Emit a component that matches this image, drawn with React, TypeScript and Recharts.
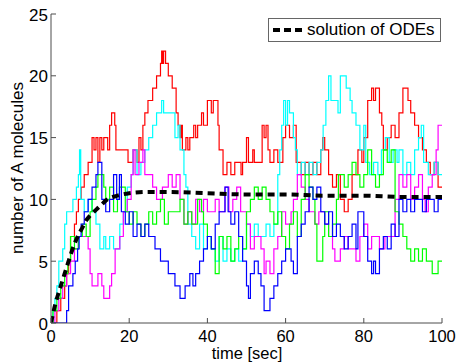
import { LineChart, Line, XAxis, YAxis, Legend } from "recharts";

// stochastic runs, [time, count] at each jump (step after)
const redRun = [
  [0, 0], [1.5, 1], [2.5, 2], [3.5, 3], [4, 4], [4.5, 5], [5, 7], [6, 8], [6.5, 9], [7, 10], [7.7, 11], [8.5, 12],
  [9.5, 13], [10.5, 15], [11, 14], [11.5, 15], [12, 13], [12.5, 15], [13, 14], [13.5, 15], [14.5, 14], [15, 16],
  [15.5, 17], [16.3, 16], [16.6, 14], [19.7, 13], [21, 14], [22, 13], [22.5, 15], [23, 14], [23.5, 16], [24, 17],
  [24.8, 18], [26, 19], [27, 20], [28, 21], [28.3, 22], [28.6, 21], [28.8, 22], [29.3, 21], [30, 20], [31, 19],
  [32, 17], [32.5, 16], [33, 15], [33.3, 16], [33.6, 14], [34.5, 15], [35, 14], [35.5, 15], [36.5, 16], [37, 15],
  [37.5, 16], [38.5, 17], [39, 16], [40, 18], [41, 17], [41.5, 18], [42.7, 16], [43, 14], [44, 12], [45, 13],
  [46, 12], [47, 13], [48.6, 12], [49, 13], [50, 15], [50.5, 13], [51.6, 14], [52, 13], [54, 16], [54.5, 15],
  [55, 16], [55.5, 14], [56, 13], [57, 14], [58, 13], [59.3, 15], [60, 16], [61, 15], [62, 16], [62.7, 13],
  [64, 12], [65, 13], [66, 12], [67, 13], [68, 12], [69, 14], [69.5, 15], [70, 14], [71, 12], [72, 11], [73, 12],
  [74, 10], [75, 9], [76, 10], [77, 12], [78.5, 14], [79.5, 13], [80, 15], [81, 18], [82, 19], [82.5, 18],
  [83, 19], [84, 17], [84.6, 16], [85, 14], [86, 15], [87, 16], [88, 15], [89, 17], [90, 19], [91.3, 18],
  [92, 17], [93, 16], [94, 15], [95, 14], [96, 13], [97, 12], [98, 13], [99, 11], [100, 11],
];

const cyanRun = [
  [0, 0], [0.5, 1], [1, 2], [1.5, 3], [2, 5], [3, 6], [3.5, 8], [4, 9], [5.6, 10], [6.5, 11], [7, 12], [7.3, 14],
  [7.6, 10], [8.5, 9], [9.5, 10], [10.5, 9], [11.5, 8], [12.5, 6], [13.5, 7], [14, 6], [15, 7], [16, 6], [17.6, 8],
  [18.5, 9], [19.5, 11], [20.5, 12], [21, 14], [22, 12], [23, 13], [24, 14], [25, 15], [26, 16], [27, 17],
  [28.3, 18], [28.8, 17], [31.7, 15], [32.5, 16], [33, 14], [34, 12], [34.5, 11], [35, 8], [36, 7], [37, 6],
  [38, 8], [39, 6], [40, 7], [41, 6], [42, 5], [43, 7], [44, 5], [45, 6], [46, 5], [47, 6], [48, 5], [49, 6],
  [50, 8], [51, 7], [52, 8], [53, 7], [55, 8], [56, 7], [57, 8], [58, 12], [58.5, 14], [59, 16], [59.5, 18],
  [60, 16], [60.5, 18], [61, 17], [62, 15], [62.5, 14], [63, 12], [64, 13], [65, 12], [66, 13], [67, 12],
  [68, 13], [69, 14], [69.6, 16], [70.3, 18], [71, 20], [71.6, 18], [73.4, 17], [74, 20], [75.5, 19], [76.5, 18],
  [77, 17], [78, 16], [79, 14], [80, 16], [80.5, 13], [81.5, 12], [82.5, 13], [83.6, 12], [84.5, 14], [85.5, 15],
  [86.5, 13], [87.5, 14], [88.5, 13], [89, 14], [90, 12], [91, 13], [92, 12], [93, 14], [94, 15], [94.7, 16],
  [95.3, 13], [96.5, 12], [98, 13], [99, 12], [100, 12],
];

const blueRun = [
  [0, 0], [4, 1], [4.5, 3], [5.6, 4], [6.2, 5], [6.8, 6], [7.2, 7], [7.7, 8], [8.5, 9], [9.5, 10], [10.5, 11],
  [11.5, 12], [12, 13], [13, 10], [14, 9], [15, 10], [16, 12], [16.8, 10], [17.5, 12], [18, 9], [19, 8], [20, 9],
  [21, 7], [22, 8], [23, 7], [24, 8], [25, 7], [26.6, 6], [28, 5], [30, 4], [31.7, 3], [33, 2], [34.3, 3],
  [35.5, 4], [36.3, 3], [37, 4], [38, 5], [39, 6], [40, 7], [41, 6], [42, 8], [43, 9], [44.5, 11], [45.3, 9],
  [46, 8], [47, 9], [48, 7], [49, 5], [50, 3], [50.5, 2], [51, 4], [52, 5], [53, 4], [53.7, 3], [54.5, 1],
  [56, 2], [57, 3], [58, 4], [59, 5], [60, 6], [61.4, 5], [62, 4], [63, 7], [64, 8], [65, 9], [66, 11],
  [67, 10], [68, 11], [69, 9], [70, 8], [71, 9], [72, 7], [73, 8], [74, 7], [75, 6], [76, 7], [77, 8], [78, 6],
  [78.5, 9], [80, 7], [81, 5], [82, 4], [82.5, 5], [83, 4], [84, 6], [85, 7], [86, 6], [87, 8], [88, 7],
  [89, 10], [90, 9], [91, 10], [92, 9], [93, 10], [95, 9], [96, 10], [98, 9], [99, 10], [100, 10],
];

const magentaRun = [
  [0, 0], [1, 1], [2, 2], [3, 3], [4, 4], [5, 5], [6, 6], [7, 7], [9.5, 6], [10, 4], [10.5, 3], [12, 4],
  [13, 3], [13.5, 2], [15, 3], [15.5, 4], [16.4, 6], [17.6, 7], [18.5, 9], [19.5, 10], [20.5, 12], [21, 14],
  [21.5, 12], [22.5, 13], [23.5, 14], [24, 12], [26, 11], [27, 10], [28.5, 11], [30, 12], [31, 11], [32, 12],
  [33, 10], [34, 8], [35, 9], [36, 8], [37, 10], [38, 9], [39, 10], [40, 9], [42, 10], [43, 9], [44.5, 11],
  [45.5, 9], [46.5, 10], [47.5, 11], [48.5, 9], [50, 8], [51, 6], [52, 7], [53.7, 6], [54.5, 4], [55, 5],
  [56, 4], [57, 6], [58, 7], [59, 9], [60, 8], [61.4, 9], [62, 10], [63, 12], [64, 11], [65, 10], [66, 9],
  [67.5, 8], [68.5, 9], [70, 8], [71, 7], [72, 6], [72.6, 5], [74, 6], [75, 7], [76, 6], [78, 5], [79, 7],
  [80, 8], [81, 6], [82, 7], [84, 6], [85.4, 7], [88, 10], [89, 12], [90, 11], [91, 12], [92, 10], [93, 11],
  [94, 12], [95, 10], [95.7, 9], [96.5, 11], [97.5, 12], [98.5, 14], [99, 16], [100, 16],
];

const greenRun = [
  [0, 0], [0.5, 1], [1.5, 2], [2.5, 3], [3.5, 4], [4.3, 5], [5, 7], [6, 6], [7, 7], [8, 8], [9, 7], [10, 9],
  [10.5, 10], [11.5, 11], [12, 12], [13.5, 11], [14, 10], [15, 11], [16, 9], [17, 10], [17.5, 11], [19, 9],
  [20, 8], [21, 9], [22, 8], [23, 7], [24, 8], [25, 9], [26, 8], [27, 9], [28, 10], [29, 8], [30, 9], [33, 10],
  [34, 8], [35, 9], [36, 8], [37.5, 10], [38.5, 9], [39, 8], [40, 7], [41, 6], [42, 4], [43, 7], [44, 6],
  [45, 7], [46, 5], [47, 6], [48, 7], [49, 6], [50, 9], [51, 10], [52, 11], [53, 10], [54, 11], [55, 10],
  [56, 9], [57, 8], [58, 9], [59, 7], [60, 6], [61, 8], [62, 9], [63, 7], [64, 10], [65, 12], [66, 11],
  [67, 10], [67.5, 8], [68, 5], [69.5, 7], [70, 9], [71, 7], [72, 8], [73, 10], [73.5, 12], [75, 11], [76, 12],
  [77, 13], [78, 12], [79, 11], [80, 12], [81, 14], [82, 12], [83, 11], [84, 12], [85, 14], [86, 13], [87, 14],
  [88, 9], [89, 8], [90, 7], [91, 6], [92, 5], [93, 6], [94, 5], [95, 6], [96, 5], [97.5, 4], [99, 5], [100, 5],
];

// deterministic ODE solution
const odeCurve = [
  [0, 0], [1, 1.4], [2, 2.5], [3, 3.5], [4, 4.5], [5, 5.5], [6, 6.4], [7, 7.1], [8, 7.7], [9, 8.3], [10, 8.7],
  [11, 9.0], [12, 9.3], [13, 9.6], [14, 9.9], [15, 10.1], [17, 10.3], [20, 10.5], [25, 10.6], [30, 10.6],
  [40, 10.5], [50, 10.4], [60, 10.4], [70, 10.3], [80, 10.3], [90, 10.2], [100, 10.2],
];

const xTicks = [0, 20, 40, 60, 80, 100];
const yTicks = [0, 5, 10, 15, 20, 25];

const FONT = '"Liberation Sans", Arial, Helvetica, sans-serif';
const AXIS = "#4d4d4d";

const toPts = (a: number[][]) => a.map(([t, v]) => ({ t, v }));

const runs = [
  { key: "red", color: "#ff0000", data: toPts(redRun) },
  { key: "cyan", color: "#00ffff", data: toPts(cyanRun) },
  { key: "magenta", color: "#ff00ff", data: toPts(magentaRun) },
  { key: "green", color: "#00ff00", data: toPts(greenRun) },
  { key: "blue", color: "#0000ff", data: toPts(blueRun) },
];

const BottomTick = ({ x, y, payload }: any) => (
  <g>
    <line x1={x} x2={x} y1={y} y2={y - 5} stroke={AXIS} />
    <text x={x} y={y + 19} textAnchor="middle" fontSize={16.5} fontFamily={FONT} fill="#000">
      {payload.value}
    </text>
  </g>
);

const TopTick = ({ x, y }: any) => <line x1={x} x2={x} y1={y} y2={y + 5} stroke={AXIS} />;

const LeftTick = ({ x, y, payload }: any) => (
  <g>
    <line x1={x} x2={x + 5} y1={y} y2={y} stroke={AXIS} />
    <text x={x - 3} y={y + 6.5} textAnchor="end" fontSize={17} fontFamily={FONT} fill="#000">
      {payload.value}
    </text>
  </g>
);

const RightTick = ({ x, y }: any) => <line x1={x} x2={x - 5} y1={y} y2={y} stroke={AXIS} />;

const LegendBox = () => (
  <div
    style={{
      border: "1px solid #666",
      background: "#fff",
      height: 24,
      display: "flex",
      alignItems: "center",
      fontFamily: FONT,
      fontSize: 17,
      color: "#000",
      boxSizing: "border-box",
    }}
  >
    <svg width={34} height={10} style={{ marginLeft: 3 }}>
      <line x1={1} x2={32} y1={5} y2={5} stroke="#000" strokeWidth={4} strokeDasharray="7 4" />
    </svg>
    <span style={{ marginLeft: 1 }}>solution of ODEs</span>
  </div>
);

export default function App() {
  return (
    <div style={{ position: "absolute", left: 0, top: 0, width: 459, height: 362, background: "#fff" }}>
      <LineChart width={459} height={362} margin={{ top: 14, right: 17, left: 0, bottom: 0 }}>
        <XAxis
          xAxisId="b"
          dataKey="t"
          type="number"
          domain={[0, 100]}
          ticks={xTicks}
          height={39}
          tickLine={false}
          tickSize={0}
          tickMargin={0}
          tick={BottomTick}
          axisLine={{ stroke: AXIS }}
          allowDataOverflow
          label={() => (
            <text x={247} y={358.5} textAnchor="middle" fontSize={16.5} fontFamily={FONT} fill="#000">
              time [sec]
            </text>
          )}
        />
        <XAxis
          xAxisId="top"
          orientation="top"
          type="number"
          domain={[0, 100]}
          ticks={xTicks}
          height={0}
          tickLine={false}
          tickSize={0}
          tickMargin={0}
          tick={TopTick}
          axisLine={{ stroke: AXIS }}
          allowDataOverflow
        />
        <YAxis
          yAxisId="l"
          type="number"
          domain={[0, 25]}
          ticks={yTicks}
          width={51}
          tickLine={false}
          tickSize={0}
          tickMargin={0}
          tick={LeftTick}
          axisLine={{ stroke: AXIS }}
          allowDataOverflow
          label={() => (
            <text
              x={23}
              y={168}
              transform="rotate(-90 23 168)"
              textAnchor="middle"
              fontSize={17}
              fontFamily={FONT}
              fill="#000"
            >
              number of A molecules
            </text>
          )}
        />
        <YAxis
          yAxisId="r"
          orientation="right"
          type="number"
          domain={[0, 25]}
          ticks={yTicks}
          width={0}
          tickLine={false}
          tickSize={0}
          tickMargin={0}
          tick={RightTick}
          axisLine={{ stroke: AXIS }}
          allowDataOverflow
        />
        {runs.map((r) => (
          <Line
            key={r.key}
            xAxisId="b"
            yAxisId="l"
            data={r.data}
            dataKey="v"
            name={r.key}
            type="stepAfter"
            stroke={r.color}
            strokeWidth={1.2}
            dot={false}
            activeDot={false}
            legendType="none"
            isAnimationActive={false}
          />
        ))}
        <Line
          xAxisId="b"
          yAxisId="l"
          data={toPts(odeCurve)}
          dataKey="v"
          name="solution of ODEs"
          type="monotone"
          stroke="#000"
          strokeWidth={4}
          strokeDasharray="7 5"
          dot={false}
          activeDot={false}
          isAnimationActive={false}
        />
        <Legend
          layout="vertical"
          align="center"
          verticalAlign="middle"
          wrapperStyle={{ left: 268, top: 18, width: 173 }}
          content={LegendBox}
        />
      </LineChart>
    </div>
  );
}
